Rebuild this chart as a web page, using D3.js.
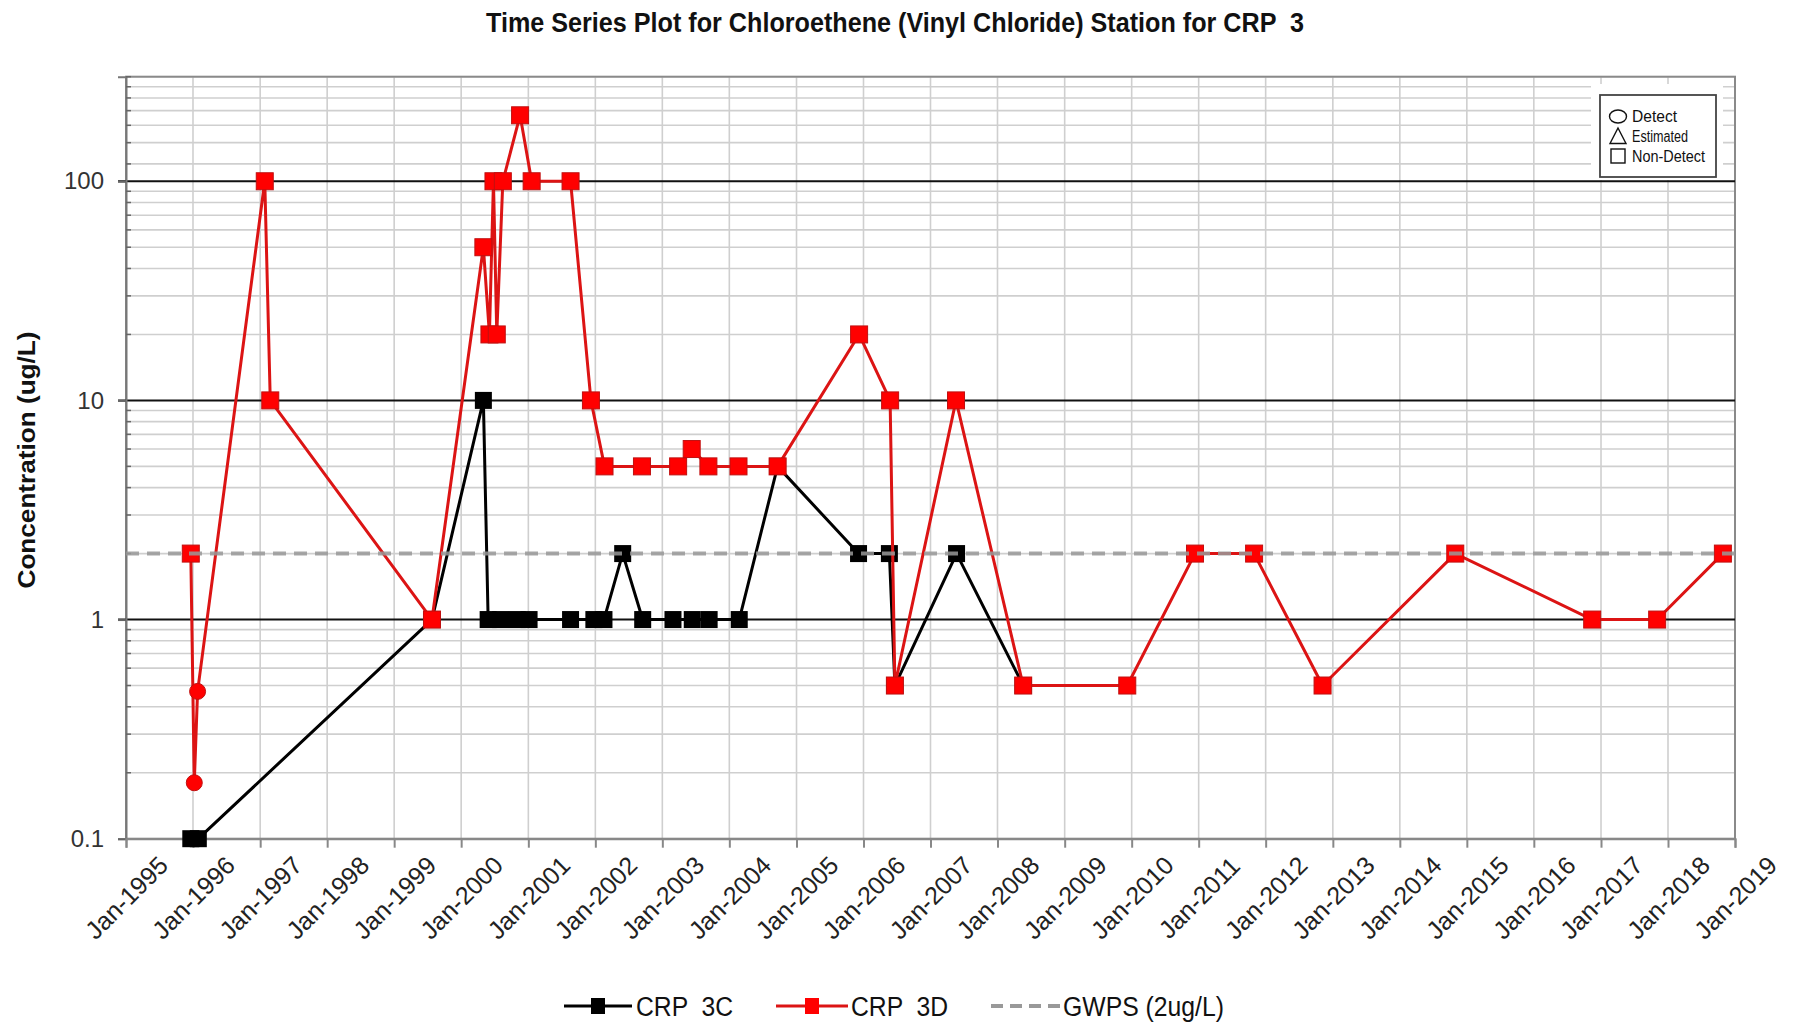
<!DOCTYPE html>
<html><head><meta charset="utf-8">
<script src="https://cdn.jsdelivr.net/npm/d3@7"></script>
<style>body{margin:0;background:#fff} svg{display:block}</style>
</head><body>
<svg id="c" width="1793" height="1024"></svg>
<script>
// ---------- data ----------
const tickYears = [1995,1996,1997,1998,1999,2000,2001,2002,2003,2004,2005,2006,2007,2008,2009,2010,2011,2012,2013,2014,2015,2016,2017,2018,2019];
const yMajorTicks = [0.1, 1, 10, 100];
const yTickLabels = ["0.1", "1", "10", "100"];
const yMinorTicks = [0.2,0.3,0.4,0.5,0.6,0.7,0.8,0.9, 2,3,4,5,6,7,8,9, 20,30,40,50,60,70,80,90, 120,150,180,210,240,270,300];

const crp3cDates = ["1995-12-20","1996-01-30","1999-07-26","2000-05-01","2000-05-27","2000-08-03","2000-11-02","2001-01-05","2001-08-19","2001-12-24","2002-02-17","2002-05-30","2002-09-16","2003-02-28","2003-06-13","2003-09-13","2004-02-24","2004-09-20","2005-12-05","2006-05-22","2006-06-21","2007-05-23","2008-05-20"];
const crp3cValues = [0.1,0.1,1,10,1,1,1,1,1,1,1,2,1,1,1,1,1,5,2,2,0.5,2,0.5];

const crp3dDates = ["1995-12-20","1996-01-08","1996-01-26","1997-01-26","1997-02-25","1999-07-26","2000-05-01","2000-06-03","2000-06-25","2000-07-13","2000-08-15","2000-11-17","2001-01-19","2001-08-19","2001-12-08","2002-02-20","2002-09-12","2003-03-28","2003-06-10","2003-09-09","2004-02-20","2004-09-20","2005-12-08","2006-05-26","2006-06-21","2007-05-20","2008-05-20","2009-12-08","2010-12-12","2011-10-30","2012-11-06","2014-10-30","2016-11-14","2017-11-03","2018-10-27"];
const crp3dValues = [2,0.18,0.47,100,10,1,50,20,100,20,100,200,100,100,10,5,5,5,6,5,5,5,20,10,0.5,10,0.5,0.5,2,2,0.5,2,1,1,2];
const crp3dShapes = ["square","circle","circle","square","square","square","square","square","square","square","square","square","square","square","square","square","square","square","square","square","square","square","square","square","square","square","square","square","square","square","square","square","square","square","square"];

const gwpsValue = 2;
const titleText = "Time Series Plot for Chloroethene (Vinyl Chloride) Station for CRP  3";
const yAxisTitle = "Concentration (ug/L)";
const legendNames = ["CRP  3C", "CRP  3D", "GWPS (2ug/L)"];
const symbolLegend = ["Detect", "Estimated", "Non-Detect"];

// ---------- layout ----------
const L = 126, R = 1735, T = 76.7, B = 838.7;
const parse = d3.timeParse("%Y-%m-%d");
const x = d3.scaleTime().domain([new Date(1995,0,1), new Date(2019,0,1)]).range([L, R]);
const y = d3.scaleLog().domain([0.1, 300]).range([B, T]);

const svg = d3.select("#c");
const NARROW = "'Liberation Sans Narrow','Arial Narrow',sans-serif";
const SANS = "'Liberation Sans',Arial,sans-serif";

svg.append("rect").attr("width",1793).attr("height",1024).attr("fill","#fff");

// minor horizontal grid
svg.append("g").selectAll("line").data(yMinorTicks).join("line")
  .attr("x1", L).attr("x2", R).attr("y1", d=>y(d)).attr("y2", d=>y(d))
  .attr("stroke", "#cfcfcf").attr("stroke-width", 1.6);
// vertical grid
svg.append("g").selectAll("line").data(tickYears).join("line")
  .attr("x1", d=>x(new Date(d,0,1))).attr("x2", d=>x(new Date(d,0,1)))
  .attr("y1", T).attr("y2", B)
  .attr("stroke", "#cfcfcf").attr("stroke-width", 1.6);

// plot border
svg.append("rect").attr("x", L).attr("y", T).attr("width", R-L).attr("height", B-T)
  .attr("fill","none").attr("stroke","#8a8a8a").attr("stroke-width",2);

// major horizontal lines
svg.append("g").selectAll("line").data(yMajorTicks.filter(d=>d>0.1)).join("line")
  .attr("x1", L-8).attr("x2", R).attr("y1", d=>y(d)).attr("y2", d=>y(d))
  .attr("stroke", "#111").attr("stroke-width", 2);

// y axis (ticks + labels)
const yAxis = d3.axisLeft(y).tickValues(yMajorTicks).tickFormat((d,i)=>yTickLabels[i]).tickSize(8).tickPadding(14);
const gy = svg.append("g").attr("transform", `translate(${L},0)`).call(yAxis);
gy.select(".domain").attr("stroke","#777").attr("stroke-width",2);
gy.selectAll(".tick line").attr("stroke","#666").attr("stroke-width",2);
gy.selectAll(".tick text").attr("font-family", SANS).attr("font-size", 24).attr("fill","#333").attr("x",-22);
// minor ticks inside
svg.append("g").selectAll("line").data(yMinorTicks).join("line")
  .attr("x1", L).attr("x2", L+5).attr("y1", d=>y(d)).attr("y2", d=>y(d))
  .attr("stroke","#666").attr("stroke-width",1.5);

// x axis
const xAxis = d3.axisBottom(x).tickValues(tickYears.map(d=>new Date(d,0,1))).tickSize(9).tickFormat(d3.timeFormat("Jan-%Y"));
const gx = svg.append("g").attr("transform", `translate(0,${B})`).call(xAxis);
gx.select(".domain").attr("stroke","#888").attr("stroke-width",2);
gx.selectAll(".tick line").attr("stroke","#888").attr("stroke-width",2);
gx.selectAll(".tick text").attr("font-family", SANS).attr("font-size", 25).attr("fill","#222")
  .attr("text-anchor","middle").attr("y", 0).attr("dy","0.35em")
  .attr("transform","translate(0,59) rotate(-45)");

// symbol legend box
const lb = svg.append("g");
lb.append("rect").attr("x",1591).attr("y",84).attr("width",132).attr("height",96).attr("fill","#fff");
lb.append("rect").attr("x",1600).attr("y",95).attr("width",116).attr("height",82)
  .attr("fill","#fff").attr("stroke","#444").attr("stroke-width",1.8);
lb.append("ellipse").attr("cx",1618).attr("cy",116.5).attr("rx",8.5).attr("ry",6.5).attr("fill","none").attr("stroke","#111").attr("stroke-width",1.4);
lb.append("path").attr("d","M1618,128 L1626,143.5 L1610,143.5 Z").attr("fill","none").attr("stroke","#111").attr("stroke-width",1.4);
lb.append("rect").attr("x",1611).attr("y",149).attr("width",14).attr("height",14).attr("fill","none").attr("stroke","#111").attr("stroke-width",1.4);
lb.selectAll("text").data(symbolLegend).join("text")
  .attr("x",1632).attr("y",(d,i)=>116.5+i*19.7).attr("dy","0.35em")
  .attr("font-family", NARROW).attr("font-size",16).attr("fill","#111")
  .attr("textLength",(d,i)=>[45,56,73][i]).attr("lengthAdjust","spacingAndGlyphs")
  .text(d=>d);

// series
const c3 = crp3cDates.map((d,i)=>({date:parse(d), v:crp3cValues[i]}));
const d3d = crp3dDates.map((d,i)=>({date:parse(d), v:crp3dValues[i], s:crp3dShapes[i]}));
const line = d3.line().x(d=>x(d.date)).y(d=>y(d.v));
const MS = 17;

svg.append("path").datum(c3).attr("d", line).attr("fill","none").attr("stroke","#000").attr("stroke-width",3).attr("stroke-linejoin","round");
svg.append("g").selectAll("rect").data(c3).join("rect")
  .attr("x", d=>x(d.date)-MS/2).attr("y", d=>y(d.v)-MS/2).attr("width", MS).attr("height", MS)
  .attr("fill","#000");

svg.append("path").datum(d3d).attr("d", line).attr("fill","none").attr("stroke","#dc1414").attr("stroke-width",3).attr("stroke-linejoin","round");
const rm = svg.append("g");
rm.selectAll("rect").data(d3d.filter(d=>d.s==="square")).join("rect")
  .attr("x", d=>x(d.date)-MS/2).attr("y", d=>y(d.v)-MS/2).attr("width", MS).attr("height", MS)
  .attr("fill","#f00").attr("stroke","#c01010").attr("stroke-width",1);
rm.selectAll("circle").data(d3d.filter(d=>d.s==="circle")).join("circle")
  .attr("cx", d=>x(d.date)).attr("cy", d=>y(d.v)).attr("r", 8)
  .attr("fill","#f00").attr("stroke","#c01010").attr("stroke-width",1);

// GWPS line
svg.append("line").attr("x1",L).attr("x2",R).attr("y1",y(gwpsValue)).attr("y2",y(gwpsValue))
  .attr("stroke","#999").attr("stroke-width",4).attr("stroke-dasharray","13,8").attr("opacity",0.85);

// title
svg.append("text").attr("x",895).attr("y",32).attr("text-anchor","middle")
  .attr("font-family",NARROW).attr("font-weight","bold").attr("font-size",27).attr("fill","#111")
  .attr("textLength",818).attr("lengthAdjust","spacingAndGlyphs")
  .style("white-space","pre").text(titleText);

// y title
svg.append("text").attr("transform","translate(27,460) rotate(-90)").attr("text-anchor","middle").attr("dy","0.35em")
  .attr("font-family",SANS).attr("font-weight","bold").attr("font-size",23).attr("fill","#111")
  .attr("textLength",257).attr("lengthAdjust","spacingAndGlyphs").text(yAxisTitle);

// bottom legend
const LY = 1006;
const lg = svg.append("g");
const items = [
  {x1:564,x2:632,color:"#000",marker:"#000",dash:null,tx:636,tl:97},
  {x1:776,x2:848,color:"#dc1414",marker:"#f00",dash:null,tx:851,tl:97},
  {x1:991,x2:1060,color:"#999",marker:null,dash:"12,7",tx:1063,tl:161}
];
items.forEach((it,i)=>{
  lg.append("line").attr("x1",it.x1).attr("x2",it.x2).attr("y1",LY).attr("y2",LY)
    .attr("stroke",it.color).attr("stroke-width",it.dash?4:3).attr("stroke-dasharray",it.dash);
  if(it.marker) lg.append("rect").attr("x",(it.x1+it.x2)/2-7).attr("y",LY-8).attr("width",14).attr("height",16).attr("fill",it.marker);
  lg.append("text").attr("x",it.tx).attr("y",LY).attr("dy","0.36em")
    .attr("font-family",NARROW).attr("font-size",27).attr("fill","#111")
    .attr("textLength",it.tl).attr("lengthAdjust","spacingAndGlyphs")
    .style("white-space","pre").text(legendNames[i]);
});
</script>
</body></html>
